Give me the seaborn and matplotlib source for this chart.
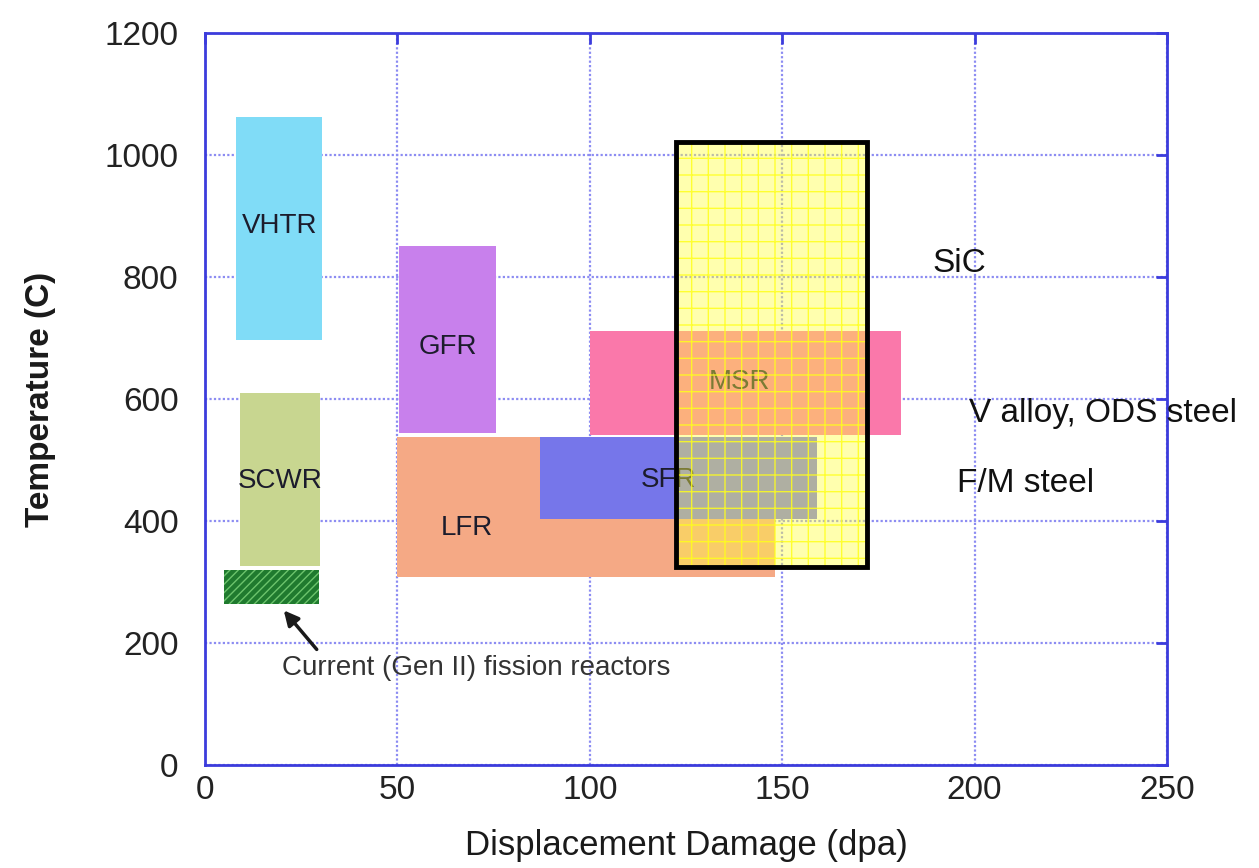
import numpy as np
import seaborn as sns
import matplotlib.pyplot as plt

# reactor operating windows (dpa range, temperature range in C)
reactors = ["VHTR", "SCWR", "GFR", "LFR", "SFR", "MSR"]
dpa_lo = [8, 9, 50.5, 50, 87, 100]
dpa_hi = [30.5, 30, 75.5, 148, 159, 181]
temp_lo = [697, 326, 544, 308, 403, 541]
temp_hi = [1063, 610, 851, 538, 538, 711]
colores = ["#80dcf7", "#c8d690", "#c880ec", "#f5a985", "#7676ea", "#fa78aa"]
etiq_x = [19.5, 19.5, 63, 68, 120.5, 139]
etiq_y = [884, 466, 685, 389, 468, 628]

# current Gen II reactors
gen2_dpa = [5, 29.5]
gen2_temp = [264, 320]

# materials window (SiC / V alloy / F/M steel box)
mat_dpa = [122.5, 172]
mat_temp = [325, 1021]

materiales = ["SiC", "V alloy, ODS steel", "F/M steel"]
mat_x = [189, 198.5, 195.5]
mat_y = [822, 577, 462]

x_ticks = [0, 50, 100, 150, 200, 250]
y_ticks = [0, 200, 400, 600, 800, 1000, 1200]

sns.set_style("white")
plt.rcParams["font.family"] = ["Liberation Sans", "DejaVu Sans"]

azul = "#3c3cdc"

fig = plt.figure(figsize=(12.59, 8.68), dpi=100)
ax = fig.add_axes([205 / 1259, 1 - 765 / 868, 962 / 1259, 732 / 868])

ancho = np.array(dpa_hi) - np.array(dpa_lo)
alto = np.array(temp_hi) - np.array(temp_lo)
ax.bar(dpa_lo, alto, width=ancho, bottom=temp_lo, align="edge",
       color=colores, linewidth=0, zorder=2)

for nombre, x, y in zip(reactors, etiq_x, etiq_y):
    ax.text(x, y, nombre, ha="center", va="center", fontsize=20,
            color="#1c1c2c", zorder=3)

# Gen II hatched box
ax.bar(gen2_dpa[0], gen2_temp[1] - gen2_temp[0], width=gen2_dpa[1] - gen2_dpa[0],
       bottom=gen2_temp[0], align="edge", facecolor="#1f7a2e",
       edgecolor="#6cc46c", hatch="////", linewidth=0, zorder=2)

# materials box (transparent yellow with grid texture)
ax.bar(mat_dpa[0], mat_temp[1] - mat_temp[0], width=mat_dpa[1] - mat_dpa[0],
       bottom=mat_temp[0], align="edge", facecolor=(1, 1, 0.25, 0.42),
       edgecolor=(1, 1, 0.1, 0.85), hatch="+", linewidth=0, zorder=4)
ax.bar(mat_dpa[0], mat_temp[1] - mat_temp[0], width=mat_dpa[1] - mat_dpa[0],
       bottom=mat_temp[0], align="edge", fill=False,
       edgecolor="black", linewidth=3.5, zorder=5)

for nombre, x, y in zip(materiales, mat_x, mat_y):
    ax.text(x, y, nombre, ha="left", va="center", fontsize=24,
            color="#111111", zorder=6)

ax.annotate("", xy=(20, 257), xytext=(29.5, 186),
            arrowprops=dict(arrowstyle="-|>", color="#1a1a1a", lw=2.5,
                            mutation_scale=22), zorder=6)
ax.text(20, 159, "Current (Gen II) fission reactors", ha="left", va="center",
        fontsize=20, color="#333333", zorder=6)

ax.set_xlim(0, 250)
ax.set_ylim(0, 1200)
ax.set_xticks(x_ticks)
ax.set_yticks(y_ticks)
ax.tick_params(axis="both", direction="in", length=8, width=2, color=azul,
               labelsize=24, labelcolor="#222222", top=True, right=True)
ax.tick_params(axis="y", pad=19)
ax.tick_params(axis="x", pad=7)

ax.set_axisbelow(True)
ax.grid(True, color="#8c8cf2", linestyle=(0, (1, 1)), linewidth=1.6, zorder=0)
for s in ax.spines.values():
    s.set_color(azul)
    s.set_linewidth(2)
    s.set_visible(True)

ax.set_xlabel("Displacement Damage (dpa)", fontsize=25, color="#1a1a1a")
ax.set_ylabel("Temperature (C)", fontsize=24, fontweight="bold", color="#1a1a1a")
ax.xaxis.set_label_coords(0.5, -0.088)
ax.yaxis.set_label_coords(-0.155, 0.5)

fig.savefig("out.png", dpi=100)
